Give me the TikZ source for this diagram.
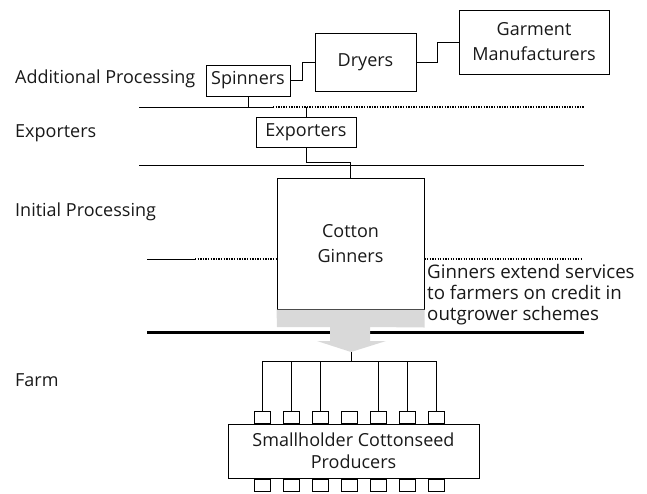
\documentclass[tikz,border=0pt]{standalone}
\usepackage{fontspec}
\setmainfont{Open Sans}
\usetikzlibrary{calc}
\begin{document}
\begin{tikzpicture}[x=1pt,y=-1pt,
  every node/.style={font=\fontsize{18}{22}\selectfont, text=black!90, inner sep=0pt},
  box/.style={draw, line width=1pt, align=center},
  wire/.style={line width=1pt},
  dots/.style={line width=1.3pt, dash pattern=on 1.3pt off 1.3pt},
  pin/.style={draw, line width=1pt, minimum width=16pt, minimum height=12pt},
  lvl/.style={anchor=west}]
\useasboundingbox (0,0) rectangle (647,493);

% level labels
\node[lvl] (lap) at (15,79) {Additional Processing};
\node[lvl] (lex) at (15,133) {Exporters};
\node[lvl] (lip) at (15,212) {Initial Processing};
\node[lvl] (lfa) at (15,380) {Farm};

% actors
\node[box, minimum width=84pt, minimum height=31pt] (spin) at (248,80.5) {Spinners};
\node[box, minimum width=101pt, minimum height=58pt] (dry) at (365.5,62) {Dryers};
\node[box, minimum width=150pt, minimum height=64pt, font=\fontsize{18}{25}\selectfont] (gar) at (534,42) {Garment\\Manufacturers};
\node[box, minimum width=100pt, minimum height=30pt] (exp) at (306,132) {Exporters};
\node[box, minimum width=147pt, minimum height=131pt, font=\fontsize{18}{25}\selectfont] (gin) at (350.5,243.5) {Cotton\\Ginners};

% level separators
\coordinate (a1) at (139,107);
\coordinate (a2) at (273,107);
\coordinate (a3) at (584,107);
\draw[wire] (a1) -- (a2);
\draw[dots] (a2) -- (a3);
\coordinate (b1) at (139,165);
\coordinate (b2) at (584,165);
\draw[wire] (b1) -- (b2);
\coordinate (c1) at (147,259);
\coordinate (c2) at (195,259);
\coordinate (c3) at (582,259);
\draw[wire] (c1) -- (c2);
\draw[dots] (c2) -- (gin.west |- c2);
\draw[dots] (gin.east |- c2) -- (c3);
\coordinate (d1) at (147,332);
\coordinate (d2) at (584,332);
\draw[line width=3pt] (d1) -- (d2);

% connectors
\draw[wire] (spin.east) -- ++(12,0) |- (dry.west);
\draw[wire] (dry.east) -- ++(21,0) |- (gar.west);
\draw[wire] (spin.south) -- (spin.south |- a1);
\draw[wire] (exp.north) -- (exp.north |- a1);
\draw[wire] (exp.south) -- ++(0,15) -| (gin.north);

% annotation
\node[anchor=north west, align=left, font=\fontsize{18.7}{21}\selectfont] (note) at (427,264)
  {Ginners extend services\\to farmers on credit in\\outgrower schemes};

% support arrow from the ginners down to the farmers
\coordinate (tip) at (351,352);
\fill[gray!30] (gin.south west) -- (gin.south east) -- ++(0,18) -- (370,327) -- (370,341)
  -- (386,341) -- (tip) -- (317,341) -- (330,341) -- (330,327) -- (277,327) -- cycle;

% producers
\node[box, minimum width=251pt, minimum height=54pt, font=\fontsize{18}{22}\selectfont] (prod) at (353.5,451) {Smallholder Cottonseed\\Producers};
\foreach \i in {0,...,6} {
  \node[pin, anchor=south] (t\i) at ($(prod.north west)+(34.5+29*\i,0)$) {};
  \node[pin, anchor=north] (u\i) at ($(prod.south west)+(34.5+29*\i,0)$) {};
}
\coordinate (bus) at (351,361);
\draw[wire] (tip) -- (bus);
\draw[wire] (t0.north |- bus) -- (t6.north |- bus);
\foreach \i in {0,1,2,4,5,6} {
  \draw[wire] (t\i.north) -- (t\i.north |- bus);
}
\end{tikzpicture}
\end{document}
